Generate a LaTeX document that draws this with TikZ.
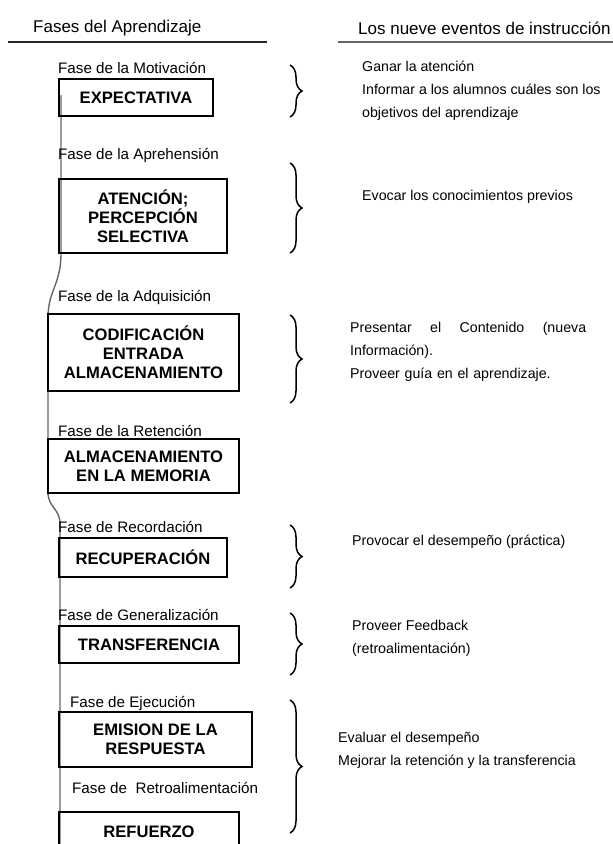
\documentclass[tikz,border=0pt]{standalone}
\usepackage{fontspec}
\setmainfont{Liberation Sans}
\usetikzlibrary{decorations.pathreplacing}

\begin{document}
\begin{tikzpicture}
  [x=1pt,y=-1pt,every node/.style={inner sep=0pt},
   caja/.style={draw,line width=1.7pt,align=center,font=\fontsize{16.6}{19}\selectfont\bfseries},
   fase/.style={anchor=west,font=\fontsize{15.2}{18}\selectfont},
   evento/.style={anchor=west,align=left,font=\fontsize{14.2}{23}\selectfont},
   titulo/.style={anchor=west,font=\fontsize{17}{20}\selectfont},
   llave/.style={decorate,decoration={brace,amplitude=12pt},line width=1.5pt},
   linea/.style={draw=black!60,line width=1.4pt}]
  \useasboundingbox (0,0) rectangle (613,844);
  \clip (0,0) rectangle (613,844);

  \node[titulo] (fases) at (33,28) {Fases del Aprendizaje};
  \node[titulo] (eventos) at (358,28) {Los nueve eventos de instrucción};
  \draw[line width=1.5pt,black!85] (8,42) -- (267,42);
  \draw[line width=1.8pt,black!60] (338,42) -- (613,42);

  \coordinate (l1) at (61,95);
  \coordinate (l2) at (61,253);
  \coordinate (l3) at (48,318);
  \coordinate (l4) at (48,492);
  \coordinate (l5) at (60,524);
  \coordinate (l6) at (60,850);
  \draw[linea] (l1) -- (l2) .. controls (61,285) and (48,290) .. (l3)
    -- (l4) .. controls (48,508) and (60,508) .. (l5) -- (l6);

  \node[fase] (f1) at (58,68)  {Fase de la Motivación};
  \node[fase] (f2) at (58,155) {Fase de la Aprehensión};
  \node[fase] (f3) at (58,297) {Fase de la Adquisición};
  \node[fase] (f4) at (58,431) {Fase de la Retención};
  \node[fase] (f5) at (58,527) {Fase de Recordación};
  \node[fase] (f6) at (58,615) {Fase de Generalización};
  \node[fase] (f7) at (70,703) {Fase de Ejecución};
  \node[fase] (f8) at (72,788) {Fase de \ Retroalimentación};

  \node[caja,minimum width=154pt,minimum height=37pt] (c1) at (136,97.5) {EXPECTATIVA};
  \node[caja,minimum width=168pt,minimum height=74pt] (c2) at (143,216) {ATENCIÓN;\\PERCEPCIÓN\\SELECTIVA};
  \node[caja,minimum width=191pt,minimum height=77pt] (c3) at (143.5,352.5) {CODIFICACIÓN\\ENTRADA\\ALMACENAMIENTO};
  \node[caja,minimum width=191pt,minimum height=54pt] (c4) at (143.5,466) {ALMACENAMIENTO\\EN LA MEMORIA};
  \node[caja,minimum width=168pt,minimum height=39pt] (c5) at (143,557.5) {RECUPERACIÓN};
  \node[caja,minimum width=180pt,minimum height=37pt] (c6) at (149,644.5) {TRANSFERENCIA};
  \node[caja,minimum width=193pt,minimum height=55pt] (c7) at (155.5,739.5) {EMISION DE LA\\RESPUESTA};
  \node[caja,minimum width=180pt,minimum height=40pt] (c8) at (149,832) {REFUERZO};

  \foreach \ya/\yb in {65/117,163/253,315/403,525/588,613/675,700/833}
    \draw[llave] (290,\ya) -- (290,\yb);

  \node[evento] (e1) at (362,91) {Ganar la atención\\Informar a los alumnos cuáles son los\\objetivos del aprendizaje};
  \node[evento] (e2) at (362,197) {Evocar los conocimientos previos};
  \node[evento,text width=236pt] (e3) at (350,352) {Presentar\hfill el\hfill Contenido\hfill (nueva\\Información).\\Proveer guía en el aprendizaje.};
  \node[evento] (e4) at (352,542) {Provocar el desempeño (práctica)};
  \node[evento] (e5) at (352,638.5) {Proveer Feedback\\(retroalimentación)};
  \node[evento] (e6) at (338,750) {Evaluar el desempeño\\Mejorar la retención y la transferencia};
\end{tikzpicture}
\end{document}
